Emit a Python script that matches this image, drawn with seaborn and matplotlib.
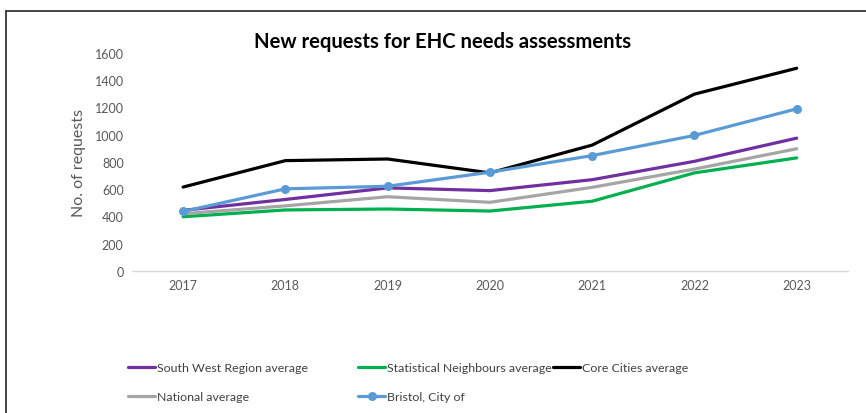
import matplotlib
matplotlib.use("Agg")
import matplotlib.pyplot as plt
import seaborn as sns
import pandas as pd
from matplotlib.lines import Line2D

years = ["2017", "2018", "2019", "2020", "2021", "2022", "2023"]
south_west = [445, 525, 610, 590, 670, 805, 975]
stat_neighbours = [398, 448, 455, 440, 512, 720, 830]
core_cities = [616, 810, 822, 720, 924, 1298, 1488]
national = [420, 478, 545, 504, 614, 748, 897]
bristol = [437, 603, 622, 725, 847, 995, 1190]

series = {
    "South West Region average": (south_west, "#7030A0", False),
    "National average": (national, "#A5A5A5", False),
    "Statistical Neighbours average": (stat_neighbours, "#00B050", False),
    "Bristol, City of": (bristol, "#5B9BD5", True),
    "Core Cities average": (core_cities, "#000000", False),
}
draw_order = [
    "Statistical Neighbours average", "National average",
    "South West Region average", "Core Cities average", "Bristol, City of",
]
legend_columns = [
    ["South West Region average", "National average"],
    ["Statistical Neighbours average", "Bristol, City of"],
    ["Core Cities average"],
]

sns.set_theme(style="white")
plt.rcParams['font.family'] = ['Lato', 'DejaVu Sans']

fig = plt.figure(figsize=(8.66, 4.14), dpi=100)
ax = fig.add_axes([0.1524, 0.343, 0.8266, 0.5266])

xs = list(range(len(years)))
handles = {}
for name in draw_order:
    vals, color, mk = series[name]
    df = pd.DataFrame({"x": xs, "y": vals})
    sns.lineplot(data=df, x="x", y="y", ax=ax, color=color, linewidth=2.3,
                 marker="o" if mk else None, markersize=6.5 if mk else 0,
                 markeredgewidth=0, label=name, legend=False)
    handles[name] = ax.lines[-1]

ax.set_xlim(-0.5, len(years) - 0.5)
ax.set_ylim(0, 1600)
ax.set_yticks(range(0, 1601, 200))
ax.set_xticks(xs)
ax.set_xticklabels(years)
ax.tick_params(axis="both", colors="#595959", labelsize=9, length=0, pad=6)
ax.set_xlabel("")
ax.set_ylabel("No. of requests", color="#595959", fontsize=11.5, labelpad=6)
for side in ["top", "right", "left"]:
    ax.spines[side].set_visible(False)
ax.spines["bottom"].set_color("#D9D9D9")
ax.spines["bottom"].set_linewidth(1)
ax.grid(False)

fig.text(0.511, 0.899, "New requests for EHC needs assessments",
         ha="center", va="center", fontsize=14.6, fontweight="bold", color="#000000")

col_x = [128 / 866, 358 / 866, 553 / 866]
for cx, names in zip(col_x, legend_columns):
    fig.legend([handles[n] for n in names], names, loc="upper left",
               bbox_to_anchor=(cx, 0.123), bbox_transform=fig.transFigure,
               ncol=1, frameon=False, fontsize=8.9, handlelength=2.2,
               handletextpad=0.15, labelspacing=1.45,
               borderaxespad=0, borderpad=0, labelcolor="#404040")

fig.add_artist(Line2D([0.0075, 1.0], [0.971, 0.971], transform=fig.transFigure,
                      color="#262626", linewidth=1.2))
fig.add_artist(Line2D([0.0075, 0.0075], [0.0, 0.971], transform=fig.transFigure,
                      color="#262626", linewidth=1.2))

fig.savefig("out.png", dpi=100)
